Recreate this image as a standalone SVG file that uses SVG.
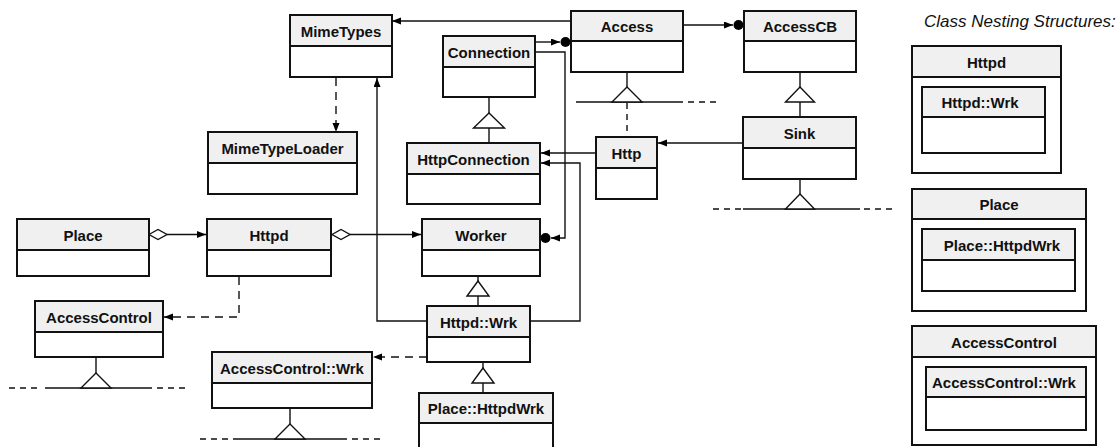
<svg xmlns="http://www.w3.org/2000/svg" width="1116" height="447" viewBox="0 0 1116 447">
<style>
.h{fill:#f0f0f0;stroke:#111;stroke-width:2}
.b{fill:#fff;stroke:#111;stroke-width:2}
.o{fill:#fff;stroke:#111;stroke-width:1.6}
.t{font-family:"Liberation Sans",Arial,sans-serif;font-weight:bold;font-size:15px;fill:#111;text-anchor:middle}
.c{fill:none;stroke:#111;stroke-width:1.4}
.d{fill:none;stroke:#111;stroke-width:1.4;stroke-dasharray:8 6}
.ds{fill:none;stroke:#111;stroke-width:1.4;stroke-dasharray:6 5}
.tri{fill:#fff;stroke:#111;stroke-width:1.4}
.dia{fill:#fff;stroke:#111;stroke-width:1.4}
.dot{fill:#000}
.title{font-family:"Liberation Sans",Arial,sans-serif;font-style:italic;font-size:17px;fill:#111}
</style>
<defs>
<marker id="arr" markerUnits="userSpaceOnUse" markerWidth="10" markerHeight="8" refX="9" refY="3.5" orient="auto" viewBox="0 0 10 8">
<path d="M0,0 L9,3.5 L0,7 z" fill="#000"/>
</marker>
</defs>

<rect width="1116" height="447" fill="#fff"/>

<g id="connectors">
<path class="c" d="M571,21 H392" marker-end="url(#arr)"/>
<path class="c" d="M535,42 H560" marker-end="url(#arr)"/>
<circle class="dot" cx="565.5" cy="42" r="5"/>
<path class="c" d="M683,25 H733" marker-end="url(#arr)"/>
<circle class="dot" cx="738.5" cy="25" r="5"/>
<path class="c" d="M535,52 H565 V238 H551" marker-end="url(#arr)"/>
<circle class="dot" cx="545.5" cy="238" r="5"/>
<path class="c" d="M596,153 H541" marker-end="url(#arr)"/>
<path class="c" d="M530,321 H580 V163 H541" marker-end="url(#arr)"/>
<path class="c" d="M427,321 H377 V78" marker-end="url(#arr)"/>
<path class="c" d="M743,143 H658" marker-end="url(#arr)"/>
<path class="d" d="M336,78 V132" marker-end="url(#arr)"/>
<path class="d" d="M239,277 V317 H164" marker-end="url(#arr)"/>
<path class="d" d="M427,357 H373" marker-end="url(#arr)"/>
<polygon class="dia" points="149,234.5 158,229.5 167,234.5 158,239.5"/>
<path class="c" d="M167,234.5 H206" marker-end="url(#arr)"/>
<polygon class="dia" points="332,234.5 341,229.5 350,234.5 341,239.5"/>
<path class="c" d="M350,234.5 H421" marker-end="url(#arr)"/>

<path class="c" d="M489,97 V113 M489,128 V143"/>
<polygon class="tri" points="489,113 473.5,128 504.5,128"/>

<path class="c" d="M627,72 V87 M576,102 H683"/>
<path class="ds" d="M688,102 H720"/>
<polygon class="tri" points="627,87 612,102 642,102"/>
<path class="ds" d="M627,103 V137"/>

<path class="c" d="M800,72 V87 M800,102 V117"/>
<polygon class="tri" points="800,87 785.5,102 814.5,102"/>

<path class="c" d="M800,179 V194 M743,209 H860"/>
<path class="ds" d="M713,209 H741 M864,209 H893"/>
<polygon class="tri" points="800,194 785.5,209 814.5,209"/>

<path class="c" d="M478,277 V281 M478,296 V306"/>
<polygon class="tri" points="478,281 467,296 489,296"/>

<path class="c" d="M483,362 V368 M483,383 V393"/>
<polygon class="tri" points="483,368 472,383 494,383"/>

<path class="c" d="M96,357 V373 M45,388 H152"/>
<path class="ds" d="M9,388 H40 M157,388 H189"/>
<polygon class="tri" points="96,373 81,388 111,388"/>

<path class="c" d="M290,408 V424 M233,439 H347"/>
<path class="ds" d="M200,439 H230 M352,439 H383"/>
<polygon class="tri" points="290,424 275,439 305,439"/>
</g>

<g id="MimeTypes"><rect class="h" x="290" y="15" width="102" height="31"/><rect class="b" x="290" y="46" width="102" height="31"/><text class="t" x="341" y="37">MimeTypes</text></g>
<g id="Connection"><rect class="h" x="443" y="36" width="92" height="31"/><rect class="b" x="443" y="67" width="92" height="30"/><text class="t" x="489" y="57.5">Connection</text></g>
<g id="Access"><rect class="h" x="571" y="11" width="112" height="30"/><rect class="b" x="571" y="41" width="112" height="31"/><text class="t" x="627" y="32">Access</text></g>
<g id="AccessCB"><rect class="h" x="744" y="11" width="112" height="30"/><rect class="b" x="744" y="41" width="112" height="31"/><text class="t" x="800" y="32">AccessCB</text></g>
<g id="MimeTypeLoader"><rect class="h" x="208" y="132" width="149" height="31"/><rect class="b" x="208" y="163" width="149" height="31"/><text class="t" x="282.5" y="154">MimeTypeLoader</text></g>
<g id="HttpConnection"><rect class="h" x="407" y="143" width="133" height="31"/><rect class="b" x="407" y="174" width="133" height="30"/><text class="t" x="473.5" y="164.5">HttpConnection</text></g>
<g id="Http"><rect class="h" x="596" y="137" width="61" height="31"/><rect class="b" x="596" y="168" width="61" height="31"/><text class="t" x="626.5" y="158.5">Http</text></g>
<g id="Sink"><rect class="h" x="743" y="117" width="113" height="31"/><rect class="b" x="743" y="148" width="113" height="31"/><text class="t" x="799.5" y="138.5">Sink</text></g>
<g id="Place"><rect class="h" x="17" y="219" width="132" height="31"/><rect class="b" x="17" y="250" width="132" height="26"/><text class="t" x="83" y="240.5">Place</text></g>
<g id="Httpd"><rect class="h" x="207" y="219" width="124" height="31"/><rect class="b" x="207" y="250" width="124" height="26"/><text class="t" x="269" y="240.5">Httpd</text></g>
<g id="Worker"><rect class="h" x="422" y="219" width="118" height="31"/><rect class="b" x="422" y="250" width="118" height="26"/><text class="t" x="481" y="240.5">Worker</text></g>
<g id="AccessControl"><rect class="h" x="35" y="301" width="128" height="31"/><rect class="b" x="35" y="332" width="128" height="25"/><text class="t" x="99" y="322.5">AccessControl</text></g>
<g id="HttpdWrk"><rect class="h" x="427" y="306" width="103" height="31"/><rect class="b" x="427" y="337" width="103" height="25"/><text class="t" x="478.5" y="327.5">Httpd::Wrk</text></g>
<g id="AccessControlWrk"><rect class="h" x="212" y="352" width="160" height="31"/><rect class="b" x="212" y="383" width="160" height="25"/><text class="t" x="292" y="373.5">AccessControl::Wrk</text></g>
<g id="PlaceHttpdWrk"><rect class="h" x="419" y="393" width="134" height="30"/><rect class="b" x="419" y="423" width="134" height="40"/><text class="t" x="486" y="414">Place::HttpdWrk</text></g>

<text class="title" x="924" y="27">Class Nesting Structures:</text>

<g id="NestHttpd">
<rect class="h" x="912" y="46" width="149" height="31"/><rect class="b" x="912" y="77" width="149" height="96"/>
<text class="t" x="986.5" y="67.5">Httpd</text>
<rect class="h" x="922" y="87" width="123" height="30"/><rect class="b" x="922" y="117" width="123" height="36"/>
<text class="t" x="980" y="108">Httpd::Wrk</text>
</g>
<g id="NestPlace">
<rect class="h" x="912" y="189" width="174" height="30"/><rect class="b" x="912" y="219" width="174" height="92"/>
<text class="t" x="999" y="210">Place</text>
<rect class="h" x="922" y="229" width="153" height="31"/><rect class="b" x="922" y="260" width="153" height="31"/>
<text class="t" x="1002" y="250.5">Place::HttpdWrk</text>
</g>
<g id="NestAccessControl">
<rect class="h" x="912" y="326" width="184" height="31"/><rect class="b" x="912" y="357" width="184" height="88"/>
<text class="t" x="1004" y="347.5">AccessControl</text>
<rect class="h" x="926" y="367" width="160" height="30"/><rect class="b" x="926" y="397" width="160" height="33"/>
<text class="t" x="1004" y="388">AccessControl::Wrk</text>
</g>
</svg>
